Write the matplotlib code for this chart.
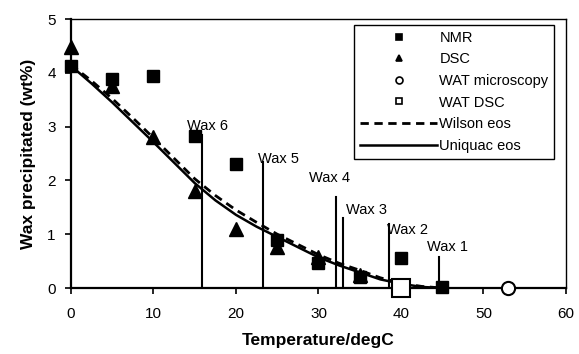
import numpy as np
import matplotlib
matplotlib.use('Agg')
import matplotlib.pyplot as plt

plt.rcParams['font.family'] = ['Liberation Sans', 'DejaVu Sans']

# Measured data
nmr_T = [0, 5, 10, 15, 20, 25, 30, 35, 40, 45]
nmr_w = [4.13, 3.88, 3.95, 2.82, 2.30, 0.89, 0.46, 0.21, 0.56, 0.02]

dsc_T = [0, 5, 10, 15, 20, 25, 30, 35]
dsc_w = [4.48, 3.75, 2.80, 1.80, 1.10, 0.77, 0.58, 0.25]

wat_micro_T = [53]
wat_micro_w = [0]
wat_dsc_T = [40]
wat_dsc_w = [0]

# Model curves
model_T = [0, 2.5, 5, 7.5, 10, 12.5, 15, 17.5, 20, 22.5, 25, 27.5, 30, 32.5, 35, 37.5, 40, 42.5, 45]
wilson_w = [4.15, 3.85, 3.52, 3.16, 2.79, 2.41, 2.03, 1.72, 1.45, 1.22, 1.00, 0.81, 0.62, 0.46, 0.33, 0.19, 0.09, 0.03, 0.0]
uniquac_w = [4.13, 3.80, 3.45, 3.08, 2.71, 2.33, 1.95, 1.63, 1.36, 1.14, 0.95, 0.76, 0.57, 0.42, 0.29, 0.16, 0.08, 0.02, 0.0]

# Individual wax melting lines
wax_names = ['Wax 1', 'Wax 2', 'Wax 3', 'Wax 4', 'Wax 5', 'Wax 6']
wax_T = [44.6, 38.6, 33.0, 32.1, 23.3, 15.9]
wax_h = [0.57, 1.19, 1.30, 1.69, 2.35, 2.84]
label_x = [43.2, 38.3, 33.3, 28.8, 22.7, 14.1]
label_y = [0.76, 1.08, 1.45, 2.04, 2.40, 3.01]

fig = plt.figure(figsize=(5.79, 3.54), dpi=100)
ax = fig.add_axes([0.1226, 0.1864, 0.8549, 0.7599])

for t, h in zip(wax_T, wax_h):
    ax.plot([t, t], [0, h], color='black', lw=1.5)
for name, x, y in zip(wax_names, label_x, label_y):
    ax.text(x, y, name, ha='left', va='center', fontsize=10.5)

ax.plot(model_T, wilson_w, color='black', lw=2.0, ls=(0, (3, 2)), label='Wilson eos')
ax.plot(model_T, uniquac_w, color='black', lw=1.8, label='Uniquac eos')

ax.plot(nmr_T, nmr_w, 's', color='black', ms=8.5, clip_on=False, label='NMR', zorder=3)
ax.plot(dsc_T, dsc_w, '^', color='black', ms=10, clip_on=False, label='DSC', zorder=3)
ax.plot(wat_micro_T, wat_micro_w, 'o', mfc='white', mec='black', mew=1.5, ms=9.5,
        clip_on=False, label='WAT microscopy', zorder=3)
ax.plot(wat_dsc_T, wat_dsc_w, 's', mfc='white', mec='black', mew=1.5, ms=12.5,
        clip_on=False, label='WAT DSC', zorder=3)

ax.set_xlim(0, 60)
ax.set_ylim(0, 5)
ax.set_xticks(range(0, 61, 10))
ax.set_yticks(range(0, 6))
ax.tick_params(axis='both', direction='out', length=4, width=1.2, labelsize=11)
ax.tick_params(axis='x', pad=10)
ax.tick_params(axis='y', pad=7)
for s in ['left', 'bottom']:
    ax.spines[s].set_linewidth(1.6)
for s in ['top', 'right']:
    ax.spines[s].set_linewidth(1.0)

ax.set_xlabel('Temperature/degC', fontsize=12.5, fontweight='bold', labelpad=8)
ax.set_ylabel('Wax precipitated (wt%)', fontsize=12.5, fontweight='bold', labelpad=8)

handles, labels = ax.get_legend_handles_labels()
order = [2, 3, 4, 5, 0, 1]
leg = ax.legend([handles[i] for i in order], [labels[i] for i in order],
                loc='upper left', bbox_to_anchor=(0.572, 0.978), fontsize=10.5,
                handlelength=5.3, handletextpad=0.15,
                labelspacing=0.52, borderpad=0.4, borderaxespad=0,
                fancybox=False, edgecolor='black', framealpha=1)
leg.get_frame().set_linewidth(1.0)
for h in leg.legend_handles:
    if h.get_marker() not in (None, 'None', ''):
        h.set_markersize(5)
        h.set_markeredgewidth(1.2)

fig.savefig('out.png', dpi=100)
